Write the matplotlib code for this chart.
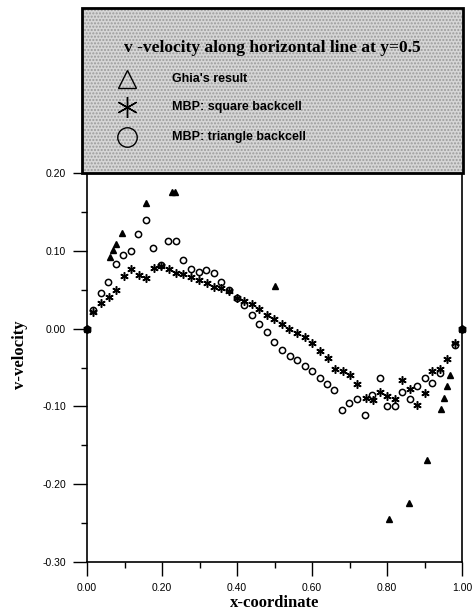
import numpy as np
import matplotlib
matplotlib.use('Agg')
from matplotlib import pyplot as plt
from matplotlib.patches import Rectangle
from matplotlib.ticker import MultipleLocator, FormatStrFormatter
from matplotlib.lines import Line2D

# Ghia's result (v along y=0.5)
ghia_x = [0.0, 0.0625, 0.0703, 0.0781, 0.0938, 0.1563, 0.2266, 0.2344, 0.5,
          0.8047, 0.8594, 0.9063, 0.9453, 0.9531, 0.9609, 0.9688, 1.0]
ghia_v = [0.0, 0.0923, 0.1009, 0.1089, 0.1232, 0.1608, 0.1751, 0.1753, 0.0545,
          -0.2453, -0.2245, -0.1691, -0.1031, -0.0886, -0.0739, -0.0591, 0.0]

# MBP: square backcell
sq_x = [0.0, 0.017, 0.037, 0.058, 0.077, 0.098, 0.118, 0.138, 0.158, 0.179,
        0.198, 0.219, 0.238, 0.257, 0.277, 0.299, 0.319, 0.339, 0.358, 0.379,
        0.399, 0.419, 0.439, 0.459, 0.479, 0.499, 0.519, 0.539, 0.561, 0.581,
        0.601, 0.622, 0.643, 0.662, 0.682, 0.701, 0.720, 0.744, 0.762, 0.781,
        0.801, 0.821, 0.841, 0.861, 0.881, 0.900, 0.919, 0.941, 0.961, 0.981, 1.0]
sq_v = [0.0, 0.021, 0.033, 0.040, 0.050, 0.067, 0.076, 0.069, 0.065, 0.078,
        0.081, 0.076, 0.072, 0.070, 0.066, 0.062, 0.058, 0.053, 0.052, 0.048,
        0.039, 0.036, 0.031, 0.025, 0.018, 0.012, 0.006, -0.001, -0.006, -0.011,
        -0.018, -0.029, -0.038, -0.052, -0.055, -0.060, -0.071, -0.089, -0.092, -0.082,
        -0.087, -0.091, -0.066, -0.078, -0.098, -0.083, -0.055, -0.052, -0.039, -0.018, 0.0]

# MBP: triangle backcell
tri_x = [0.0, 0.017, 0.037, 0.057, 0.076, 0.097, 0.118, 0.137, 0.157, 0.177,
         0.198, 0.217, 0.236, 0.257, 0.277, 0.298, 0.318, 0.339, 0.358, 0.379,
         0.399, 0.419, 0.439, 0.459, 0.479, 0.499, 0.520, 0.540, 0.560, 0.580,
         0.601, 0.621, 0.641, 0.659, 0.679, 0.699, 0.720, 0.741, 0.761, 0.780,
         0.800, 0.821, 0.841, 0.861, 0.881, 0.900, 0.919, 0.941, 0.981, 1.0]
tri_v = [0.0, 0.024, 0.046, 0.060, 0.083, 0.094, 0.100, 0.121, 0.139, 0.103,
         0.082, 0.112, 0.112, 0.088, 0.076, 0.073, 0.075, 0.072, 0.060, 0.049,
         0.039, 0.030, 0.018, 0.006, -0.005, -0.017, -0.027, -0.035, -0.041, -0.048,
         -0.055, -0.064, -0.071, -0.079, -0.104, -0.095, -0.091, -0.111, -0.085, -0.064,
         -0.100, -0.100, -0.082, -0.091, -0.074, -0.064, -0.070, -0.057, -0.021, 0.0]

labels = ["Ghia's result", "MBP: square backcell", "MBP: triangle backcell"]
title = "v -velocity along horizontal line at y=0.5"

W, H = 474, 616
fig = plt.figure(figsize=(W / 100, H / 100), dpi=100)
ax = fig.add_axes([87 / W, 1 - 562 / H, (462 - 87) / W, (562 - 173) / H])

ax.plot(ghia_x, ghia_v, ls='none', marker='^', ms=4, mfc='black', mec='black', mew=1.0, clip_on=False)
ax.plot(sq_x, sq_v, ls='none', marker=(6, 2, 0), ms=6, mec='black', mew=1.1, clip_on=False)
ax.plot(tri_x, tri_v, ls='none', marker='o', ms=4.5, mfc='none', mec='black', mew=1.1, clip_on=False)

ax.set_xlim(0, 1)
ax.set_ylim(-0.3, 0.2)
ax.xaxis.set_major_locator(MultipleLocator(0.2))
ax.xaxis.set_minor_locator(MultipleLocator(0.1))
ax.yaxis.set_major_locator(MultipleLocator(0.1))
ax.yaxis.set_minor_locator(MultipleLocator(0.05))
ax.xaxis.set_major_formatter(FormatStrFormatter('%.2f'))
ax.yaxis.set_major_formatter(FormatStrFormatter('%.2f'))
ax.tick_params(which='major', length=10, width=1, labelsize=7.5, pad=5)
ax.tick_params(which='minor', length=4, width=1)
for lab in ax.get_xticklabels() + ax.get_yticklabels():
    lab.set_family('Liberation Sans')
for sp in ax.spines.values():
    sp.set_linewidth(1.2)

fig.text(275 / W, 1 - 603 / H, 'x-coordinate', family='Liberation Serif', weight='bold',
         fontsize=12, ha='center', va='center')
fig.text(20 / W, 1 - 355 / H, 'v-velocity', family='Liberation Serif', weight='bold',
         fontsize=12, ha='center', va='center', rotation=90)

# stippled legend/title box above the plot
bx0, bx1, by0, by1 = 82, 463, 8, 173
rect_kw = dict(xy=(bx0 / W, 1 - by1 / H), width=(bx1 - bx0) / W, height=(by1 - by0) / H,
               transform=fig.transFigure)
fig.patches.append(Rectangle(facecolor='#d6d6d6', edgecolor='#9a9a9a', hatch='.....', lw=0, **rect_kw))
fig.patches.append(Rectangle(fill=False, edgecolor='black', lw=2, **rect_kw))

fig.text((bx0 + bx1) / 2 / W, 1 - 48 / H, title, family='Liberation Serif', weight='bold',
         fontsize=12.5, ha='center', va='center')

leg_markers = [dict(marker='^', ms=13), dict(marker=(6, 2, 0), ms=15), dict(marker='o', ms=14)]
rows = [79, 107, 137]
for lab, mk, yy in zip(labels, leg_markers, rows):
    fig.add_artist(Line2D([127 / W], [1 - yy / H], ls='none', mfc='none', mec='black', mew=1,
                          transform=fig.transFigure, **mk))
    fig.text(172 / W, 1 - yy / H, lab, family='Liberation Sans', weight='bold',
             fontsize=9, ha='left', va='center')

fig.savefig('out.png', dpi=100)
